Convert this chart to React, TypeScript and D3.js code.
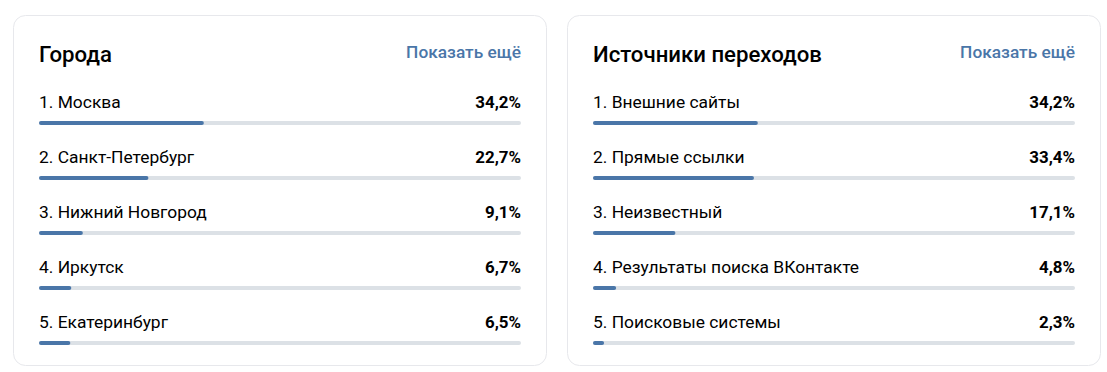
import React from 'react'
import * as d3 from 'd3'

const cityLabels = ['Москва', 'Санкт-Петербург', 'Нижний Новгород', 'Иркутск', 'Екатеринбург']
const cityValues = [34.2, 22.7, 9.1, 6.7, 6.5]

const sourceLabels = ['Внешние сайты', 'Прямые ссылки', 'Неизвестный', 'Результаты поиска ВКонтакте', 'Поисковые системы']
const sourceValues = [34.2, 33.4, 17.1, 4.8, 2.3]

const panelTitles = ['Города', 'Источники переходов']
const moreLabel = 'Показать ещё'

const W = 1107
const H = 372
const FONT = 'Roboto, "Noto Sans", sans-serif'

const fmt = (v: number) => d3.format('.1f')(v).replace('.', ',') + '%'

type PanelProps = {
  x: number
  title: string
  labels: string[]
  values: number[]
}

const Panel = ({ x, title, labels, values }: PanelProps) => {
  const cardW = 533
  const left = 26
  const barW = 482
  const xScale = d3.scaleLinear().domain([0, 100]).range([0, barW])
  const yScale = d3
    .scaleBand<number>()
    .domain(d3.range(labels.length))
    .range([80, 355])

  return (
    <g transform={`translate(${x},0)`}>
      <rect x={0.5} y={15.5} width={cardW} height={350} rx={12} fill="#fff" stroke="#e7e8ec" />
      <text x={left} y={62} fontSize={22.2} fontWeight={500} fill="#000" fontFamily={FONT}>
        {title}
      </text>
      <text x={left + barW} y={58} fontSize={17.3} fontWeight={500} fill="#4a76a8" textAnchor="end" fontFamily={FONT}>
        {moreLabel}
      </text>
      {labels.map((l, i) => {
        const y0 = yScale(i) as number
        return (
          <g key={l} transform={`translate(${left},${y0})`}>
            <text x={0} y={28} fontSize={17.4} fill="#000" fontFamily={FONT}>
              {`${i + 1}. ${l}`}
            </text>
            <text x={barW} y={27.5} fontSize={16.9} fontWeight={700} fill="#000" textAnchor="end" fontFamily={FONT}>
              {fmt(values[i])}
            </text>
            <rect x={0} y={41} width={barW} height={4} rx={2} fill="#dce1e6" />
            <rect x={0} y={41} width={xScale(values[i])} height={4} rx={2} fill="#4a76a8" />
          </g>
        )
      })}
    </g>
  )
}

export default function App() {
  return (
    <svg width={W} height={H} style={{ position: 'absolute', left: 0, top: 0, background: '#fff' }}>
      <rect width={W} height={H} fill="#fff" />
      <Panel x={13} title={panelTitles[0]} labels={cityLabels} values={cityValues} />
      <Panel x={567} title={panelTitles[1]} labels={sourceLabels} values={sourceValues} />
    </svg>
  )
}
